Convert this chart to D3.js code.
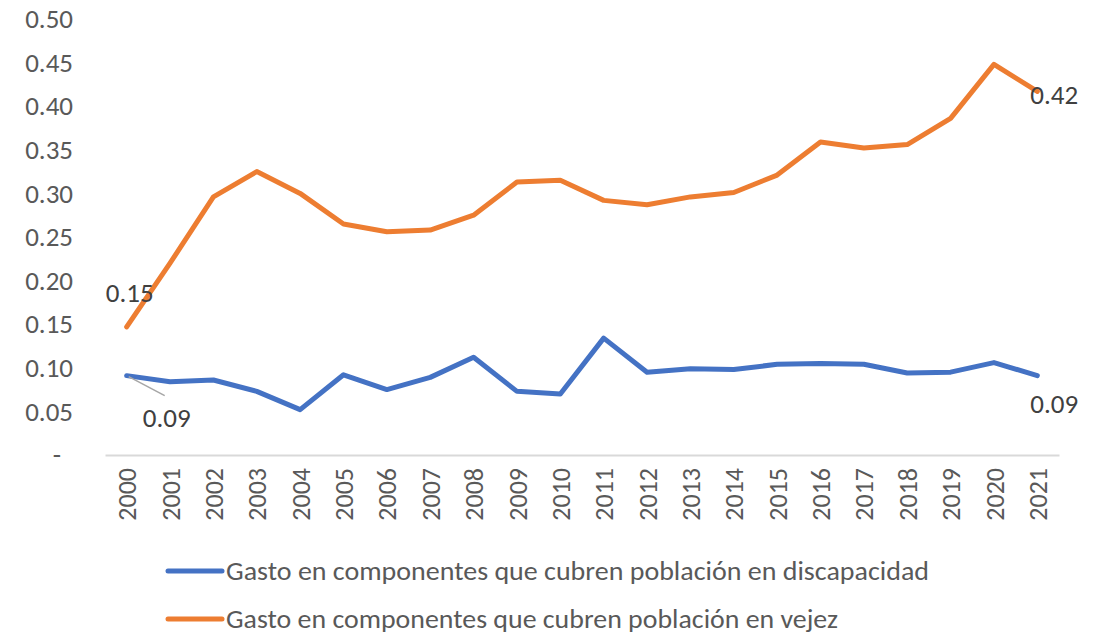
<!DOCTYPE html>
<html>
<head>
<meta charset="utf-8">
<script src="https://cdn.jsdelivr.net/npm/d3@7"></script>
<style>
  body { margin: 0; background: #fff; }
  svg text { font-family: Carlito, Calibri, Lato, sans-serif; }
</style>
</head>
<body>
<svg class="chart"></svg>
<script>
// años (categorías del eje x)
const years = ["2000", "2001", "2002", "2003", "2004", "2005", "2006", "2007", "2008", "2009", "2010",
               "2011", "2012", "2013", "2014", "2015", "2016", "2017", "2018", "2019", "2020", "2021"];

const discapacidad = [0.091, 0.084, 0.086, 0.073, 0.052, 0.092, 0.075, 0.089, 0.112, 0.073, 0.070,
                      0.134, 0.095, 0.099, 0.098, 0.104, 0.105, 0.104, 0.094, 0.095, 0.106, 0.091];

const vejez = [0.147, 0.220, 0.296, 0.325, 0.300, 0.265, 0.256, 0.258, 0.275, 0.313, 0.315,
               0.292, 0.287, 0.296, 0.301, 0.321, 0.359, 0.352, 0.356, 0.386, 0.448, 0.417];

const yTicks = [0, 0.05, 0.10, 0.15, 0.20, 0.25, 0.30, 0.35, 0.40, 0.45, 0.50];

const seriesNames = [
    "Gasto en componentes que cubren población en discapacidad",
    "Gasto en componentes que cubren población en vejez"
];
const colors = ["#4472C4", "#ED7D31"];

const width = 1101;
const height = 634;
const margin = {top: 19, left: 105, bottom: 179, right: 42};
const innerW = width - margin.left - margin.right;
const innerH = height - margin.top - margin.bottom;

let svg = d3.select("svg.chart")
    .attr("width", width)
    .attr("height", height);

let g = svg.append("g")
    .attr("transform", `translate(${margin.left}, ${margin.top})`);

let x = d3.scalePoint()
    .domain(years)
    .range([0, innerW])
    .padding(0.5);

let y = d3.scaleLinear()
    .domain([0, 0.5])
    .range([innerH, 0]);

// eje y (solo etiquetas)
let yAxis = g.append("g")
    .call(d3.axisLeft(y).tickValues(yTicks).tickSize(0).tickPadding(32)
        .tickFormat(d => d === 0 ? "-" : d3.format(".2f")(d)));
yAxis.select(".domain").remove();
yAxis.selectAll("text")
    .style("font-size", "27px")
    .attr("fill", "#595959");
yAxis.selectAll("text").filter(d => d === 0)
    .attr("x", -44);

// eje x
let xAxis = g.append("g")
    .attr("transform", `translate(0, ${innerH})`)
    .call(d3.axisBottom(x).tickSize(0));
xAxis.select(".domain")
    .attr("stroke", "#D9D9D9")
    .attr("stroke-width", 2);
xAxis.selectAll("text")
    .style("font-size", "26px")
    .attr("fill", "#595959")
    .attr("transform", "rotate(-90)")
    .attr("text-anchor", "end")
    .attr("x", -13)
    .attr("y", 0)
    .attr("dy", "0.35em");

let line = d3.line()
    .x((d, i) => x(years[i]))
    .y(d => y(d));

[discapacidad, vejez].forEach((s, k) => {
    g.append("path")
        .datum(s)
        .attr("fill", "none")
        .attr("stroke", colors[k])
        .attr("stroke-width", 5)
        .attr("stroke-linejoin", "round")
        .attr("stroke-linecap", "round")
        .attr("d", line);
});

// etiquetas de datos
const first = years[0], last = years[years.length - 1];
g.append("line")
    .attr("x1", x(first) + 2).attr("y1", y(discapacidad[0]) + 1)
    .attr("x2", x(first) + 38).attr("y2", y(discapacidad[0]) + 20)
    .attr("stroke", "#A6A6A6")
    .attr("stroke-width", 1.5);

const labels = [
    {t: d3.format(".2f")(vejez[0]), x: x(first) + 3, y: y(vejez[0]) - 34, a: "middle"},
    {t: d3.format(".2f")(discapacidad[0]), x: x(first) + 40, y: y(discapacidad[0]) + 42, a: "middle"},
    {t: d3.format(".2f")(vejez[vejez.length - 1]), x: x(last) - 7, y: y(vejez[vejez.length - 1]) + 3, a: "start"},
    {t: d3.format(".2f")(discapacidad[discapacidad.length - 1]), x: x(last) - 7, y: y(discapacidad[discapacidad.length - 1]) + 28, a: "start"}
];
g.selectAll(".dlabel")
    .data(labels)
    .enter().append("text")
    .attr("class", "dlabel")
    .attr("x", d => d.x)
    .attr("y", d => d.y)
    .attr("dy", "0.35em")
    .attr("text-anchor", d => d.a)
    .style("font-size", "27px")
    .attr("fill", "#404040")
    .text(d => d.t);

// leyenda
let legend = svg.append("g")
    .attr("transform", "translate(166, 571)");
seriesNames.forEach((n, k) => {
    let row = legend.append("g").attr("transform", `translate(0, ${k * 48})`);
    row.append("line")
        .attr("x1", 2).attr("x2", 56)
        .attr("stroke", colors[k])
        .attr("stroke-width", 5)
        .attr("stroke-linecap", "round");
    row.append("text")
        .attr("x", 60)
        .attr("dy", "0.35em")
        .style("font-size", "27px")
        .attr("textLength", k === 0 ? 703 : 612)
        .attr("lengthAdjust", "spacingAndGlyphs")
        .attr("fill", "#595959")
        .text(n);
});
</script>
</body>
</html>
